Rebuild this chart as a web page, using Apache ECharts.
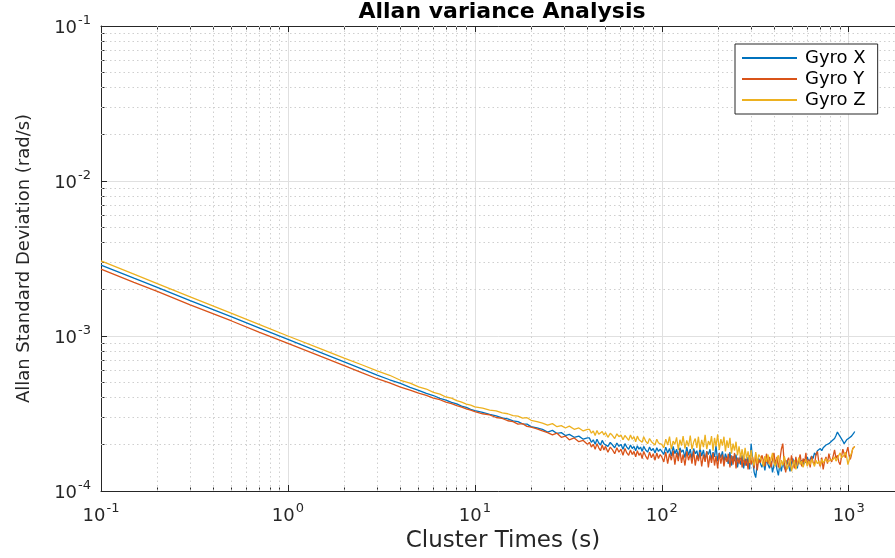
<!DOCTYPE html>
<html><head><meta charset="utf-8">
<script src="https://cdn.jsdelivr.net/npm/echarts@6/dist/echarts.min.js"></script>
<style>html,body{margin:0;padding:0;background:#fff}#c{width:895px;height:558px}</style>
</head><body><div id="c"></div>
<script>
// Cluster times (s)
const taus = [0.1, 0.15, 0.2, 0.3, 0.5, 0.7, 1, 1.5, 2, 2.5, 3, 3.5, 4, 4.5, 5, 5.5, 6, 6.5, 7, 7.5, 8, 8.5, 9, 9.5, 10,
  11, 12, 13, 14, 15, 16, 17, 18, 19, 20,
  21.5, 23, 24.5, 26, 27.5, 29, 30.5, 32, 34, 36, 38, 40,
  41, 42, 43, 44, 45, 46, 47, 48, 49, 50, 51.5, 53, 54.5, 56, 57.5, 59, 60.5, 62, 63.5, 65, 66.5, 68, 69.5, 71, 72.5, 74, 75.5, 77, 78.5, 80, 82, 84, 86, 88, 90, 92, 94, 96, 98, 100,
  102.5, 105, 107.5, 110, 112.5, 115, 117.5, 120, 122.5, 125, 127.5, 130, 133, 136, 139, 142, 145, 148, 151, 154, 157, 160,
  163.5, 167, 170.5, 174, 177.5, 181, 184.5, 188, 191.5, 195, 199, 203, 207, 211, 215, 219, 223, 227,
  231.5, 236, 240.5, 245, 249.5, 254, 259, 264, 269, 274, 279, 284, 289.5, 295, 300.5, 306, 312, 318, 324, 330,
  336, 343, 349.5, 356, 363, 370, 377, 384, 391, 398, 405.5, 413, 420.5, 428, 436, 444, 452, 460, 468.5, 477,
  485.5, 494, 503, 512, 521.5, 531, 540.5, 550, 560, 570, 580, 590, 600.5, 611, 622, 633, 644.5, 656, 668, 680,
  692.5, 705, 717.5, 730, 743, 756, 769.5, 783, 797, 811, 825.5, 840, 855, 870, 885, 900, 915, 930, 945, 960,
  975, 990, 1005, 1020, 1035, 1050, 1063.5, 1077];

// Allan standard deviation (rad/s)
const gyroX = [28.7e-4, 23.6e-4, 20.6e-4, 16.9e-4, 13.3e-4, 11.3e-4, 9.5e-4, 7.82e-4, 6.81e-4, 6.12e-4, 5.6e-4, 5.22e-4, 4.95e-4, 4.66e-4, 4.46e-4, 4.26e-4, 4.13e-4, 3.96e-4, 3.86e-4, 3.73e-4, 3.65e-4, 3.53e-4, 3.46e-4, 3.36e-4, 3.30e-4,
  3.21e-4, 3.12e-4, 3.05e-4, 2.96e-4, 2.92e-4, 2.83e-4, 2.80e-4, 2.71e-4, 2.70e-4, 2.60e-4,
  2.55e-4, 2.50e-4, 2.40e-4, 2.46e-4, 2.35e-4, 2.38e-4, 2.28e-4, 2.32e-4, 2.22e-4, 2.26e-4, 2.16e-4, 2.20e-4,
  2.20e-4, 2.06e-4, 2.14e-4, 2.00e-4, 2.16e-4, 2.04e-4, 1.98e-4, 2.12e-4, 2.02e-4, 2.08e-4, 1.94e-4, 2.06e-4, 1.98e-4, 1.90e-4, 2.04e-4, 1.94e-4, 2.00e-4, 1.86e-4, 2.02e-4, 1.92e-4,
  1.86e-4, 1.98e-4, 1.88e-4, 1.94e-4, 1.82e-4, 1.96e-4, 1.86e-4, 1.92e-4, 1.80e-4, 1.94e-4, 1.84e-4, 1.78e-4, 1.92e-4, 1.82e-4, 1.88e-4, 1.76e-4, 1.90e-4, 1.80e-4, 1.86e-4, 1.82e-4,
  1.72e-4, 1.92e-4, 1.76e-4, 1.88e-4, 1.68e-4, 1.94e-4, 1.74e-4, 1.86e-4, 1.66e-4, 1.90e-4, 1.78e-4, 1.84e-4, 1.64e-4, 1.92e-4, 1.70e-4, 1.86e-4, 1.62e-4, 1.88e-4, 1.74e-4, 1.82e-4, 1.60e-4, 1.90e-4,
  1.68e-4, 1.84e-4, 1.58e-4, 1.80e-4, 1.72e-4, 1.86e-4, 1.60e-4, 1.78e-4, 1.66e-4, 1.96e-4, 1.56e-4, 1.76e-4, 1.64e-4, 1.80e-4, 1.54e-4, 1.74e-4, 1.62e-4, 1.50e-4,
  1.78e-4, 1.46e-4, 1.68e-4, 1.56e-4, 1.72e-4, 1.42e-4, 1.64e-4, 1.48e-4, 1.70e-4, 1.40e-4, 1.62e-4, 1.46e-4, 1.66e-4, 1.38e-4, 2.02e-4, 1.60e-4, 1.32e-4, 1.22e-4, 1.50e-4, 1.62e-4,
  1.58e-4, 1.42e-4, 1.54e-4, 1.36e-4, 1.62e-4, 1.48e-4, 1.40e-4, 1.56e-4, 1.32e-4, 1.46e-4, 1.58e-4, 1.38e-4, 1.26e-4, 1.50e-4, 1.34e-4, 1.54e-4, 1.42e-4, 1.36e-4, 1.58e-4, 1.46e-4,
  1.34e-4, 1.52e-4, 1.62e-4, 1.44e-4, 1.56e-4, 1.40e-4, 1.62e-4, 1.50e-4, 1.58e-4, 1.44e-4, 1.60e-4, 1.52e-4, 1.66e-4, 1.54e-4, 1.60e-4, 1.68e-4, 1.62e-4, 1.76e-4, 1.70e-4, 1.82e-4,
  1.78e-4, 1.88e-4, 1.82e-4, 1.90e-4, 1.86e-4, 1.98e-4, 1.94e-4, 2.02e-4, 2.00e-4, 2.10e-4, 2.06e-4, 2.18e-4, 2.28e-4, 2.40e-4, 2.34e-4, 2.24e-4, 2.18e-4, 2.10e-4, 2.02e-4, 2.06e-4,
  2.14e-4, 2.10e-4, 2.20e-4, 2.18e-4, 2.26e-4, 2.28e-4, 2.36e-4, 2.42e-4];

const gyroY = [27.0e-4, 22.2e-4, 19.4e-4, 15.9e-4, 12.5e-4, 10.6e-4, 8.97e-4, 7.38e-4, 6.43e-4, 5.78e-4, 5.3e-4, 4.98e-4, 4.68e-4, 4.47e-4, 4.28e-4, 4.14e-4, 3.97e-4, 3.88e-4, 3.74e-4, 3.66e-4, 3.55e-4, 3.48e-4, 3.39e-4, 3.32e-4, 3.25e-4,
  3.15e-4, 3.10e-4, 2.98e-4, 2.94e-4, 2.84e-4, 2.80e-4, 2.70e-4, 2.72e-4, 2.61e-4, 2.58e-4,
  2.52e-4, 2.44e-4, 2.38e-4, 2.30e-4, 2.36e-4, 2.22e-4, 2.26e-4, 2.14e-4, 2.20e-4, 2.08e-4, 2.12e-4, 2.00e-4,
  2.06e-4, 1.92e-4, 2.00e-4, 1.86e-4, 2.02e-4, 1.90e-4, 1.82e-4, 1.98e-4, 1.84e-4, 1.94e-4, 1.78e-4, 1.92e-4, 1.84e-4, 1.74e-4, 1.90e-4, 1.78e-4, 1.86e-4, 1.70e-4, 1.88e-4, 1.76e-4,
  1.70e-4, 1.84e-4, 1.72e-4, 1.80e-4, 1.66e-4, 1.82e-4, 1.70e-4, 1.76e-4, 1.62e-4, 1.80e-4, 1.68e-4, 1.60e-4, 1.78e-4, 1.64e-4, 1.74e-4, 1.58e-4, 1.76e-4, 1.62e-4, 1.72e-4, 1.66e-4,
  1.54e-4, 1.78e-4, 1.50e-4, 1.74e-4, 1.58e-4, 1.82e-4, 1.48e-4, 1.76e-4, 1.56e-4, 1.84e-4, 1.52e-4, 1.72e-4, 1.46e-4, 1.80e-4, 1.58e-4, 1.74e-4, 1.50e-4, 1.82e-4, 1.46e-4, 1.70e-4, 1.56e-4, 1.78e-4,
  1.44e-4, 1.72e-4, 1.54e-4, 1.80e-4, 1.42e-4, 1.70e-4, 1.52e-4, 1.76e-4, 1.46e-4, 1.68e-4, 1.40e-4, 1.76e-4, 1.50e-4, 1.72e-4, 1.44e-4, 1.66e-4, 1.54e-4, 1.74e-4,
  1.42e-4, 1.70e-4, 1.48e-4, 1.76e-4, 1.40e-4, 1.64e-4, 1.50e-4, 1.72e-4, 1.42e-4, 1.68e-4, 1.46e-4, 1.62e-4, 1.38e-4, 1.70e-4, 1.48e-4, 1.66e-4, 1.40e-4, 1.74e-4, 1.36e-4, 1.60e-4,
  1.52e-4, 1.70e-4, 1.58e-4, 1.44e-4, 1.74e-4, 1.50e-4, 1.66e-4, 1.42e-4, 1.60e-4, 1.76e-4, 1.48e-4, 1.66e-4, 1.42e-4, 1.58e-4, 1.86e-4, 2.02e-4, 1.50e-4, 1.32e-4, 1.56e-4, 1.64e-4,
  1.44e-4, 1.70e-4, 1.52e-4, 1.40e-4, 1.66e-4, 1.46e-4, 1.58e-4, 1.72e-4, 1.44e-4, 1.62e-4, 1.50e-4, 1.76e-4, 1.46e-4, 1.60e-4, 1.42e-4, 1.68e-4, 1.54e-4, 1.48e-4, 1.72e-4, 1.80e-4,
  1.52e-4, 1.44e-4, 1.64e-4, 1.38e-4, 1.56e-4, 1.66e-4, 1.50e-4, 1.74e-4, 1.60e-4, 1.54e-4, 1.68e-4, 1.84e-4, 1.62e-4, 1.70e-4, 1.54e-4, 1.48e-4, 1.66e-4, 1.86e-4, 1.74e-4, 1.64e-4,
  1.80e-4, 1.92e-4, 1.70e-4, 1.60e-4, 1.72e-4, 1.88e-4, 1.84e-4, 1.94e-4];

const gyroZ = [30.5e-4, 25.1e-4, 21.8e-4, 17.9e-4, 14.0e-4, 11.9e-4, 10.0e-4, 8.25e-4, 7.2e-4, 6.5e-4, 5.95e-4, 5.58e-4, 5.18e-4, 4.97e-4, 4.70e-4, 4.55e-4, 4.33e-4, 4.22e-4, 4.04e-4, 3.97e-4, 3.83e-4, 3.74e-4, 3.64e-4, 3.58e-4, 3.49e-4,
  3.42e-4, 3.33e-4, 3.29e-4, 3.19e-4, 3.15e-4, 3.06e-4, 3.04e-4, 2.95e-4, 2.97e-4, 2.86e-4,
  2.80e-4, 2.74e-4, 2.66e-4, 2.72e-4, 2.60e-4, 2.64e-4, 2.55e-4, 2.62e-4, 2.50e-4, 2.55e-4, 2.44e-4, 2.50e-4,
  2.50e-4, 2.36e-4, 2.44e-4, 2.28e-4, 2.46e-4, 2.32e-4, 2.26e-4, 2.42e-4, 2.30e-4, 2.38e-4, 2.22e-4, 2.36e-4, 2.28e-4, 2.18e-4, 2.34e-4, 2.24e-4, 2.30e-4, 2.14e-4, 2.28e-4, 2.20e-4,
  2.12e-4, 2.30e-4, 2.16e-4, 2.24e-4, 2.08e-4, 2.26e-4, 2.14e-4, 2.20e-4, 2.06e-4, 2.24e-4, 2.10e-4, 2.02e-4, 2.18e-4, 2.08e-4, 2.14e-4, 1.98e-4, 2.16e-4, 2.04e-4, 2.10e-4, 2.00e-4,
  1.90e-4, 2.16e-4, 1.98e-4, 2.24e-4, 1.86e-4, 2.10e-4, 2.00e-4, 2.22e-4, 1.84e-4, 2.14e-4, 1.96e-4, 2.26e-4, 1.88e-4, 2.12e-4, 1.94e-4, 2.28e-4, 1.86e-4, 2.06e-4, 2.18e-4, 1.90e-4, 2.24e-4, 1.84e-4,
  2.14e-4, 1.92e-4, 2.30e-4, 1.86e-4, 2.10e-4, 1.98e-4, 2.26e-4, 1.82e-4, 2.20e-4, 1.94e-4, 2.32e-4, 1.84e-4, 2.16e-4, 1.96e-4, 2.24e-4, 1.80e-4, 2.12e-4, 1.90e-4,
  2.20e-4, 1.74e-4, 2.02e-4, 1.82e-4, 2.08e-4, 1.70e-4, 1.94e-4, 1.64e-4, 1.86e-4, 1.58e-4, 1.90e-4, 1.62e-4, 1.80e-4, 1.52e-4, 1.84e-4, 1.56e-4, 1.46e-4, 1.78e-4, 1.50e-4, 1.72e-4,
  1.66e-4, 1.58e-4, 1.44e-4, 1.68e-4, 1.54e-4, 1.72e-4, 1.48e-4, 1.60e-4, 1.76e-4, 1.52e-4, 1.44e-4, 1.62e-4, 1.70e-4, 1.40e-4, 1.58e-4, 1.46e-4, 1.68e-4, 1.54e-4, 1.38e-4, 1.50e-4,
  1.60e-4, 1.34e-4, 1.46e-4, 1.58e-4, 1.38e-4, 1.50e-4, 1.64e-4, 1.48e-4, 1.56e-4, 1.42e-4, 1.52e-4, 1.60e-4, 1.44e-4, 1.56e-4, 1.48e-4, 1.60e-4, 1.52e-4, 1.44e-4, 1.58e-4, 1.50e-4,
  1.56e-4, 1.46e-4, 1.60e-4, 1.52e-4, 1.48e-4, 1.62e-4, 1.54e-4, 1.50e-4, 1.58e-4, 1.54e-4, 1.60e-4, 1.66e-4, 1.56e-4, 1.62e-4, 1.70e-4, 1.76e-4, 1.64e-4, 1.60e-4, 1.70e-4, 1.78e-4,
  1.66e-4, 1.48e-4, 1.58e-4, 1.68e-4, 1.76e-4, 1.86e-4, 1.90e-4, 1.94e-4];

const seriesNames = ['Gyro X', 'Gyro Y', 'Gyro Z'];
const xMajorTicks = [0.1, 1, 10, 100, 1000];
const xMinorTicks = [0.2, 0.3, 0.4, 0.5, 0.6, 0.7, 0.8, 0.9, 2, 3, 4, 5, 6, 7, 8, 9, 20, 30, 40, 50, 60, 70, 80, 90, 200, 300, 400, 500, 600, 700, 800, 900];
const yMajorTicks = [0.0001, 0.001, 0.01, 0.1];
const yMinorTicks = [0.0002, 0.0003, 0.0004, 0.0005, 0.0006, 0.0007, 0.0008, 0.0009, 0.002, 0.003, 0.004, 0.005, 0.006, 0.007, 0.008, 0.009, 0.02, 0.03, 0.04, 0.05, 0.06, 0.07, 0.08, 0.09];

const colors = ['#0072BD', '#D95319', '#EDB120'];
const FONT = 'DejaVu Sans';
const AX = '#262626';
const X_MIN = 0.1, X_MAX = 2000, Y_MIN = 0.0001, Y_MAX = 0.1;

function pow10(v) {
  const e = Math.round(Math.log10(v));
  return '{b|10}{e|' + e + '}';
}
const labelRich = {
  b: { fontFamily: FONT, fontSize: 18, color: AX, lineHeight: 23, verticalAlign: 'bottom' },
  e: { fontFamily: FONT, fontSize: 13, color: AX, lineHeight: 13, verticalAlign: 'top', padding: [0, 0, 0, 1] }
};

function xAx(extra) {
  return Object.assign({
    type: 'log', logBase: 10, min: X_MIN, max: X_MAX, gridIndex: 0, position: 'bottom',
    axisLine: { show: false, onZero: false },
    axisTick: { show: false },
    axisLabel: { show: false },
    splitLine: { show: false },
    minorTick: { show: false }, minorSplitLine: { show: false }
  }, extra);
}
function yAx(extra) {
  return Object.assign({
    type: 'log', logBase: 10, min: Y_MIN, max: Y_MAX, gridIndex: 0, position: 'left',
    axisLine: { show: false, onZero: false },
    axisTick: { show: false },
    axisLabel: { show: false },
    splitLine: { show: false },
    minorTick: { show: false }, minorSplitLine: { show: false }
  }, extra);
}

const plotH = 465, plotW = 804;

const option = {
  animation: false,
  backgroundColor: '#fff',
  title: {
    text: 'Allan variance Analysis', left: 502, top: 1, textAlign: 'center', padding: 0,
    textStyle: { fontFamily: FONT, fontWeight: 'bold', fontSize: 22, color: '#000' }
  },
  grid: { left: 101, top: 26, bottom: 67, right: -10, containLabel: false, outerBoundsMode: 'none' },
  legend: {
    orient: 'vertical', left: 735, top: 44, padding: [5, 12, 5, 7],
    itemWidth: 55, itemHeight: 2, itemGap: 3, icon: 'rect',
    backgroundColor: '#fff', borderColor: AX, borderWidth: 1, borderRadius: 0,
    textStyle: { fontFamily: FONT, fontSize: 18, color: '#000', lineHeight: 18, padding: [0, 0, 0, 3] },
    data: seriesNames
  },
  xAxis: [
    xAx({
      axisLine: { show: true, onZero: false, lineStyle: { color: AX, width: 1 } },
      axisTick: { show: true, inside: true, length: 6, customValues: xMajorTicks, lineStyle: { color: AX } },
      axisLabel: { show: true, customValues: xMajorTicks, formatter: pow10, rich: labelRich, margin: 11 },
      splitLine: { show: true, lineStyle: { color: '#e0e0e0', width: 1 } },
      name: 'Cluster Times (s)', nameLocation: 'middle', nameGap: 35,
      nameTextStyle: { fontFamily: FONT, fontSize: 23, color: AX }
    }),
    xAx({
      position: 'top',
      axisLine: { show: true, onZero: false, lineStyle: { color: AX, width: 1 } },
      axisTick: { show: true, inside: true, length: 6, customValues: xMajorTicks, lineStyle: { color: AX } }
    }),
    xAx({
      axisTick: { show: true, inside: true, length: 3.5, customValues: xMinorTicks, lineStyle: { color: AX } }
    }),
    xAx({
      position: 'top',
      axisTick: { show: true, inside: true, length: 3.5, customValues: xMinorTicks, lineStyle: { color: AX } }
    }),
    xAx({
      axisTick: { show: true, inside: true, length: plotH, customValues: xMinorTicks,
        lineStyle: { color: '#cfcfcf', width: 1, type: [1.5, 3] } }
    })
  ],
  yAxis: [
    yAx({
      axisLine: { show: true, onZero: false, lineStyle: { color: AX, width: 1 } },
      axisTick: { show: true, inside: true, length: 6, customValues: yMajorTicks, lineStyle: { color: AX } },
      axisLabel: { show: true, customValues: yMajorTicks, formatter: pow10, rich: labelRich, margin: 10 },
      splitLine: { show: true, lineStyle: { color: '#e0e0e0', width: 1 } },
      name: 'Allan Standard Deviation (rad/s)', nameLocation: 'middle', nameGap: 68,
      nameTextStyle: { fontFamily: FONT, fontSize: 18, color: AX }
    }),
    yAx({
      axisTick: { show: true, inside: true, length: 3.5, customValues: yMinorTicks, lineStyle: { color: AX } }
    }),
    yAx({
      axisTick: { show: true, inside: true, length: plotW, customValues: yMinorTicks,
        lineStyle: { color: '#cfcfcf', width: 1, type: [1.5, 3] } }
    })
  ],
  series: [gyroX, gyroY, gyroZ].map((vals, k) => ({
    name: seriesNames[k],
    type: 'line',
    xAxisIndex: 0, yAxisIndex: 0,
    data: taus.map((t, i) => [t, vals[i]]),
    symbol: 'none',
    showSymbol: false,
    lineStyle: { color: colors[k], width: 1.3 },
    itemStyle: { color: colors[k] },
    z: 3 + k
  }))
};

const chart = echarts.init(document.getElementById('c'), null, { renderer: 'canvas' });
chart.setOption(option);
</script>
</body></html>
